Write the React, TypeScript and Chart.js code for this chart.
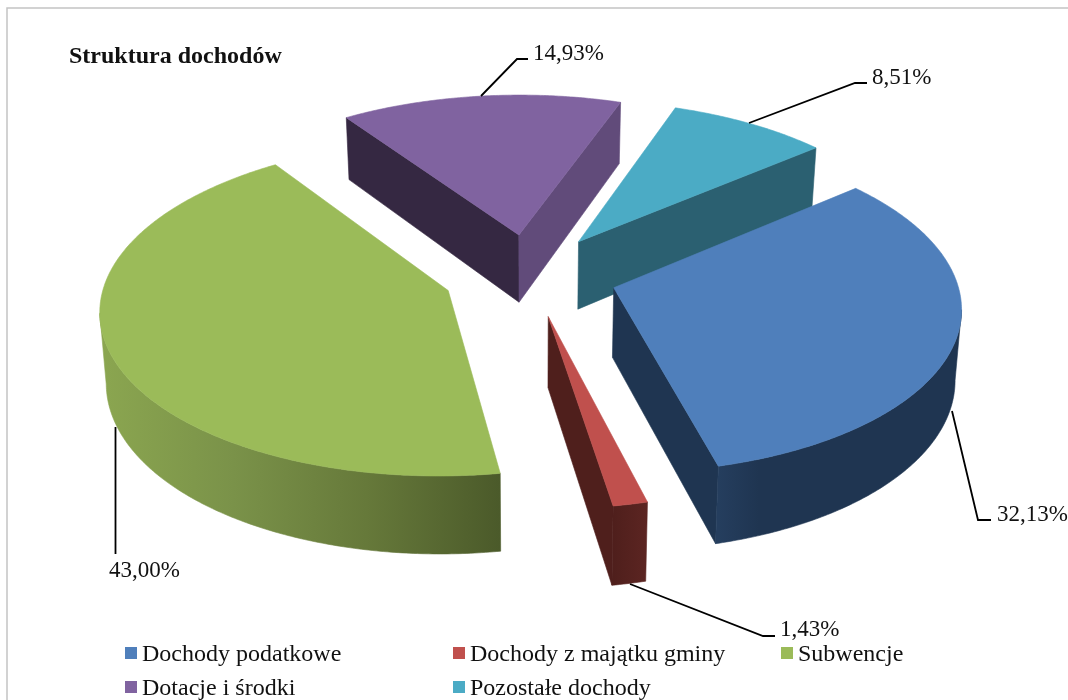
import React, { useEffect, useRef } from "react";
import { Chart, registerables } from "chart.js";

Chart.register(...registerables);

const categories = [
  "Dochody podatkowe",
  "Dochody z majątku gminy",
  "Subwencje",
  "Dotacje i środki",
  "Pozostałe dochody",
];
const shares = [32.13, 1.43, 43.0, 14.93, 8.51];
const titleText = "Struktura dochodów";

const topColors = ["#4f7fbb", "#c0504d", "#9bbb59", "#8063a0", "#4babc5"];
const startWallColors = ["#1f3551", "#5a2421", "#52622e", "#352842", "#2b6071"];
const endWallColors = ["#1f3551", "#4f1f1c", "#52622e", "#614b7a", "#2b6071"];
const rimStops: string[][] = [
  ["#253e5e", "#1f3551", "#1f3551", "#1f3551", "#1f3551", "#1f3551", "#1f3551"],
  ["#4f1f1c", "#5c2522"],
  ["#8ba650", "#7a9249", "#66793a", "#4b5a2a"],
  ["#352842", "#352842"],
  ["#2b6071", "#2b6071"],
];

// Tilted-disc camera: centre, radii, foreshortening, thickness and slice pull-out.
const cam = { cx: 530, cy: 275, rx: 342, ry: 162.5, persp: 0.105, depth: 69, taper: 0.015, pull: 0.255 };

const project = (u: number, v: number, z: number) => {
  const k = 1 / (1 - cam.persp * v);
  return {
    x: cam.cx + cam.rx * u * k * (1 - z * cam.taper),
    y: cam.cy + cam.ry * v * k + z * cam.depth * k,
  };
};

type Pt = { x: number; y: number };

const fillPoly = (ctx: CanvasRenderingContext2D, pts: Pt[], fill: string | CanvasGradient) => {
  ctx.beginPath();
  pts.forEach((p, i) => (i ? ctx.lineTo(p.x, p.y) : ctx.moveTo(p.x, p.y)));
  ctx.closePath();
  ctx.fillStyle = fill;
  ctx.strokeStyle = fill;
  ctx.lineWidth = 0.6;
  ctx.fill();
  ctx.stroke();
};

// Draws each pie slice as an exploded solid, using the angles Chart.js computed.
const solidPie = {
  id: "solidPie",
  beforeDatasetDraw(chart: any) {
    const ctx: CanvasRenderingContext2D = chart.ctx;
    const arcs = chart.getDatasetMeta(0).data;
    const solids = arcs.map((arc: any, i: number) => {
      const mid = (arc.startAngle + arc.endAngle) / 2;
      const ou = Math.cos(mid) * cam.pull;
      const ov = Math.sin(mid) * cam.pull;
      const angles: number[] = [];
      const steps = Math.max(4, Math.ceil((arc.endAngle - arc.startAngle) / 0.01));
      for (let s = 0; s <= steps; s++) {
        angles.push(arc.startAngle + ((arc.endAngle - arc.startAngle) * s) / steps);
      }
      const at = (a: number, z: number) => project(ou + Math.cos(a), ov + Math.sin(a), z);
      return { i, ou, ov, angles, at, apexY: project(ou, ov, 0).y };
    });
    solids.sort((a: any, b: any) => a.apexY - b.apexY);

    solids.forEach(({ i, ou, ov, angles, at }: any) => {
      const apex = project(ou, ov, 0);
      const apexLow = project(ou, ov, 1);
      const first = angles[0];
      const last = angles[angles.length - 1];
      const top = angles.map((a: number) => at(a, 0));
      const low = angles.map((a: number) => at(a, 1));

      // Cut faces only show when their top edge runs right-to-left on screen.
      const s0 = at(first, 0);
      const e0 = at(last, 0);
      if (s0.x < apex.x) fillPoly(ctx, [apex, s0, at(first, 1), apexLow], startWallColors[i]);
      if (apex.x < e0.x) fillPoly(ctx, [e0, apex, apexLow, at(last, 1)], endWallColors[i]);

      // Outer rim: the run of arc samples that faces the viewer.
      let a = -1;
      let b = -1;
      for (let n = 0; n + 1 < top.length; n++) {
        if (top[n + 1].x < top[n].x) {
          if (a < 0) a = n;
          b = n + 1;
        }
      }
      if (a >= 0) {
        const upper = top.slice(a, b + 1);
        const lower = low.slice(a, b + 1).reverse();
        const x0 = Math.min(...upper.map((p: Pt) => p.x));
        const x1 = Math.max(...upper.map((p: Pt) => p.x));
        const grad = ctx.createLinearGradient(x0, 0, x1, 0);
        rimStops[i].forEach((c, n, all) => grad.addColorStop(n / (all.length - 1), c));
        fillPoly(ctx, [...upper, ...lower], grad);
      }

      fillPoly(ctx, [apex, ...top], topColors[i]);
    });
    return false;
  },
};

const labelFont = "23px 'Liberation Serif'";
const legendFont = "24px 'Liberation Serif'";
const leaderLines: Pt[][] = [
  [{ x: 952, y: 411 }, { x: 978, y: 520 }, { x: 991, y: 520 }],
  [{ x: 630, y: 584 }, { x: 763, y: 636 }, { x: 775, y: 636 }],
  [{ x: 115.5, y: 427 }, { x: 115.5, y: 554 }],
  [{ x: 481, y: 96 }, { x: 517, y: 59 }, { x: 528, y: 59 }],
  [{ x: 749, y: 123 }, { x: 855, y: 83 }, { x: 867, y: 83 }],
];
const labelAnchors: Pt[] = [
  { x: 997, y: 521 },
  { x: 780, y: 636 },
  { x: 109, y: 577 },
  { x: 533, y: 60 },
  { x: 872, y: 84 },
];
const legendCols = [125, 453, 781];
const legendRows = [661, 695];

// Leader lines, percentage labels and the two-row legend grid.
const annotations = {
  id: "annotations",
  afterDraw(chart: any) {
    const ctx: CanvasRenderingContext2D = chart.ctx;
    ctx.save();

    // Frame around the chart area
    ctx.strokeStyle = "#c4c4c4";
    ctx.lineWidth = 1.5;
    ctx.beginPath();
    ctx.moveTo(7, 700);
    ctx.lineTo(7, 8);
    ctx.lineTo(1068, 8);
    ctx.stroke();

    ctx.strokeStyle = "#000";
    ctx.lineWidth = 1.8;
    leaderLines.forEach((line) => {
      ctx.beginPath();
      line.forEach((p, i) => (i ? ctx.lineTo(p.x, p.y) : ctx.moveTo(p.x, p.y)));
      ctx.stroke();
    });

    ctx.fillStyle = "#111";
    ctx.font = labelFont;
    ctx.textBaseline = "alphabetic";
    ctx.textAlign = "left";
    chart.data.datasets[0].data.forEach((v: number, i: number) => {
      ctx.fillText(v.toFixed(2).replace(".", ",") + "%", labelAnchors[i].x, labelAnchors[i].y);
    });

    ctx.font = legendFont;
    chart.data.labels.forEach((name: string, i: number) => {
      const x = legendCols[i % 3];
      const y = legendRows[Math.floor(i / 3)];
      ctx.fillStyle = topColors[i];
      ctx.fillRect(x, y - 14, 12, 12);
      ctx.fillStyle = "#111";
      ctx.fillText(name, x + 17, y);
    });
    ctx.restore();
  },
};

export default function App() {
  const ref = useRef<HTMLCanvasElement | null>(null);

  useEffect(() => {
    document.body.style.margin = "0";
    const chart = new Chart(ref.current as HTMLCanvasElement, {
      type: "pie",
      data: {
        labels: categories,
        datasets: [{ data: shares, backgroundColor: topColors, borderWidth: 0 }],
      },
      options: {
        animation: false,
        responsive: false,
        rotation: 50,
        layout: { padding: { left: 69, top: 42 } },
        plugins: {
          legend: { display: false },
          tooltip: { enabled: false },
          title: {
            display: true,
            text: titleText,
            align: "start",
            color: "#111",
            padding: 0,
            font: { family: "'Liberation Serif'", size: 24, weight: "bold" },
          },
        },
      },
      plugins: [solidPie, annotations],
    } as any);
    return () => chart.destroy();
  }, []);

  return <canvas ref={ref} width={1068} height={700} style={{ display: "block" }} />;
}
